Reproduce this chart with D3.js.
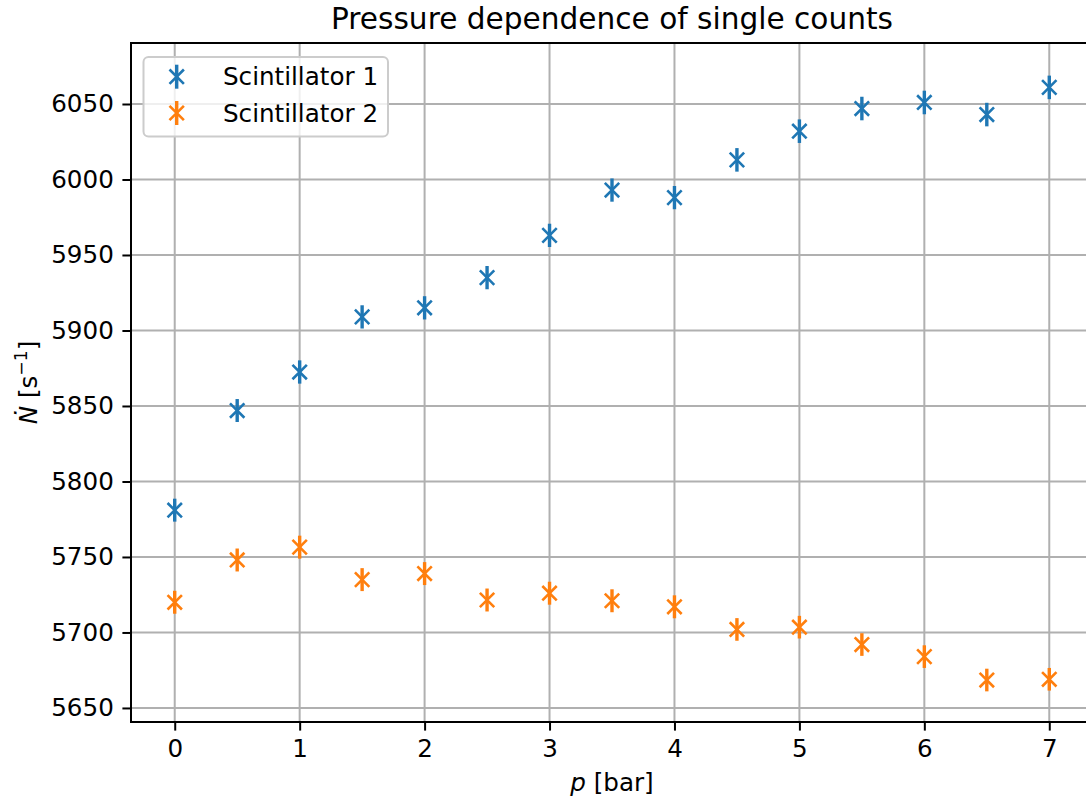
<!DOCTYPE html>
<html>
<head>
<meta charset="utf-8">
<script src="https://cdn.jsdelivr.net/npm/d3@7"></script>
<style>
  body { margin: 0; background: #fff; }
  svg { display: block; overflow: hidden; font-family: "DejaVu Sans", sans-serif; }
</style>
</head>
<body>
<div id="chart"></div>
<script>
// pressure steps and counts
const pressures = [0, 0.5, 1, 1.5, 2, 2.5, 3, 3.5, 4, 4.5, 5, 5.5, 6, 6.5, 7];
const scint1 = [5781, 5847, 5872.5, 5909, 5915, 5935, 5963, 5993, 5988, 6013, 6032, 6047, 6051, 6043, 6061];
const scint2 = [5720, 5748, 5756.5, 5735, 5739, 5721.5, 5726, 5721, 5717, 5702, 5703.5, 5692, 5684, 5668.5, 5669];
const err1 = [7.6, 7.6, 7.7, 7.7, 7.7, 7.7, 7.7, 7.7, 7.7, 7.8, 7.8, 7.8, 7.8, 7.8, 7.8];
const err2 = [7.6, 7.6, 7.6, 7.6, 7.6, 7.6, 7.6, 7.6, 7.6, 7.5, 7.5, 7.5, 7.5, 7.5, 7.5];
const xTicks = [0, 1, 2, 3, 4, 5, 6, 7];
const yTicks = [5650, 5700, 5750, 5800, 5850, 5900, 5950, 6000, 6050];
const seriesNames = ["Scintillator 1", "Scintillator 2"];
const colors = ["#1f77b4", "#ff7f0e"];

const svgWidth = 1086, svgHeight = 800;
// plot box (right spine falls just outside the picture)
const plotL = 131, plotR = 1093, plotT = 43, plotB = 722;
const fs = 24.6; // tick / label font size

const svg = d3.select("#chart").append("svg")
  .attr("width", svgWidth)
  .attr("height", svgHeight);

const x = d3.scaleLinear().domain([-0.35, 7.35]).range([plotL, plotR]);
const y = d3.scaleLinear().domain([5640.7, 6090.4]).range([plotB, plotT]);

// grid
svg.append("g").selectAll("line").data(xTicks).enter().append("line")
  .attr("x1", d => x(d)).attr("x2", d => x(d))
  .attr("y1", plotT).attr("y2", plotB)
  .attr("stroke", "#b0b0b0").attr("stroke-width", 2);
svg.append("g").selectAll("line").data(yTicks).enter().append("line")
  .attr("x1", plotL).attr("x2", plotR)
  .attr("y1", d => y(d)).attr("y2", d => y(d))
  .attr("stroke", "#b0b0b0").attr("stroke-width", 2);

// axes
const xAxis = svg.append("g")
  .attr("transform", `translate(0,${plotB})`)
  .call(d3.axisBottom(x).tickValues(xTicks).tickSize(8.6).tickPadding(8.6).tickFormat(d3.format("d")));
const yAxis = svg.append("g")
  .attr("transform", `translate(${plotL},0)`)
  .call(d3.axisLeft(y).tickValues(yTicks).tickSize(8.6).tickPadding(8.6).tickFormat(d3.format("d")));

[xAxis, yAxis].forEach(a => {
  a.select(".domain").remove();
  a.selectAll(".tick line").attr("stroke", "#000").attr("stroke-width", 2);
  a.selectAll(".tick text").attr("font-size", fs).attr("fill", "#000")
    .attr("font-family", "DejaVu Sans");
});

// spines
svg.append("rect")
  .attr("x", plotL).attr("y", plotT)
  .attr("width", plotR - plotL).attr("height", plotB - plotT)
  .attr("fill", "none").attr("stroke", "#000").attr("stroke-width", 2);

// points with error bars
const s = 7.2;
function drawSeries(vals, errs, color) {
  const g = svg.append("g");
  const pts = g.selectAll("g").data(pressures.map((p, i) => ({p: p, v: vals[i], e: errs[i]})))
    .enter().append("g");
  pts.append("line")
    .attr("x1", d => x(d.p)).attr("x2", d => x(d.p))
    .attr("y1", d => y(d.v - d.e)).attr("y2", d => y(d.v + d.e))
    .attr("stroke", color).attr("stroke-width", 3.4);
  pts.append("path")
    .attr("d", d => {
      const cx = x(d.p), cy = y(d.v);
      return `M${cx - s},${cy - s}L${cx + s},${cy + s}M${cx - s},${cy + s}L${cx + s},${cy - s}`;
    })
    .attr("stroke", color).attr("stroke-width", 2.6).attr("fill", "none");
}
drawSeries(scint1, err1, colors[0]);
drawSeries(scint2, err2, colors[1]);

// legend
const leg = svg.append("g");
leg.append("rect")
  .attr("x", 143.5).attr("y", 57).attr("width", 244.5).attr("height", 79.5)
  .attr("rx", 5).attr("fill", "#fff").attr("fill-opacity", 0.8)
  .attr("stroke", "#cccccc").attr("stroke-width", 2);
seriesNames.forEach((name, i) => {
  const cy = 76.7 + i * 36.3, cx = 176.7;
  leg.append("line").attr("x1", cx).attr("x2", cx).attr("y1", cy - 12).attr("y2", cy + 12)
    .attr("stroke", colors[i]).attr("stroke-width", 3.4);
  leg.append("path")
    .attr("d", `M${cx - s},${cy - s}L${cx + s},${cy + s}M${cx - s},${cy + s}L${cx + s},${cy - s}`)
    .attr("stroke", colors[i]).attr("stroke-width", 2.6);
  leg.append("text").attr("x", 223).attr("y", cy + 8.5)
    .attr("font-size", fs).text(name);
});

// title and labels
svg.append("text")
  .attr("x", (plotL + plotR) / 2).attr("y", 29)
  .attr("text-anchor", "middle").attr("font-size", 29.6)
  .text("Pressure dependence of single counts");

const xl = svg.append("text")
  .attr("x", (plotL + plotR) / 2).attr("y", 791)
  .attr("text-anchor", "middle").attr("font-size", fs);
xl.append("tspan").attr("font-style", "italic").text("p");
xl.append("tspan").text(" [bar]");

const yl = svg.append("text")
  .attr("transform", `translate(37,${(plotT + plotB) / 2}) rotate(-90)`)
  .attr("text-anchor", "middle").attr("font-size", fs);
yl.append("tspan").attr("font-style", "italic").text("Ṅ");
yl.append("tspan").text(" [s");
yl.append("tspan").attr("font-size", 17.2).attr("dy", -10).text("−1");
yl.append("tspan").attr("dy", 10).text("]");
</script>
</body>
</html>
